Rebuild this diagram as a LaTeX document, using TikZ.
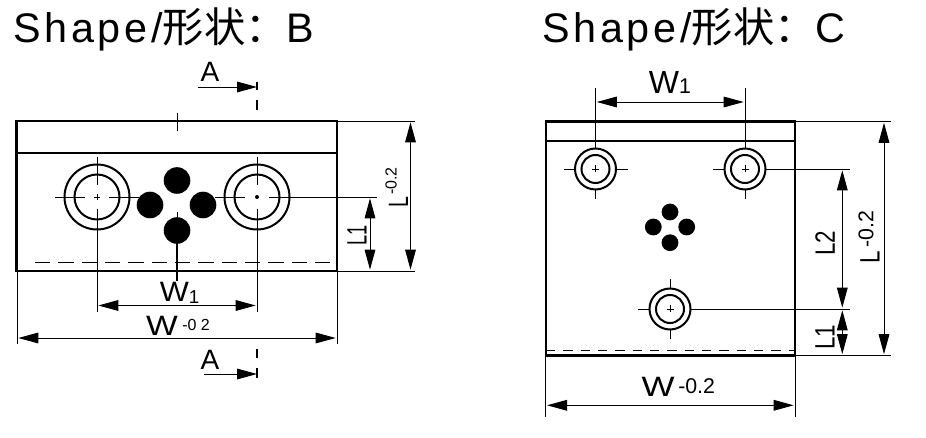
\documentclass[tikz,border=0pt]{standalone}
\usepackage{graphicx}
\usepackage{fontspec}
\setmainfont{Liberation Sans}
\newfontfamily\titlefont[LetterSpace=9]{Liberation Sans}
\newfontfamily\cjk{Noto Sans CJK SC}
\usetikzlibrary{arrows.meta}
\newcommand{\fs}[1]{\fontsize{#1}{#1}\selectfont}
\begin{document}
\begin{tikzpicture}[x=0.75pt,y=-0.75pt,
		outline/.style = {line width=1.8pt},
		thinline/.style = {line width=0.7pt},
		ring/.style = {line width=1.5pt},
		hidden/.style = {line width=0.6pt, dash pattern=on 11.5pt off 6pt},
		dim/.style = {line width=0.7pt, {Triangle[length=15pt,width=8pt]}-{Triangle[length=15pt,width=8pt]}, shorten >=1pt, shorten <=1pt},
		cutarrow/.style = {line width=0.7pt, -{Triangle[length=15pt,width=8pt]}},
		title/.style = {anchor=base west, inner sep=0pt, font=\fs{31}},
		label/.style = {inner sep=0pt, font=\fs{21}},
		small/.style = {inner sep=0pt, font=\fs{12}}]
	\useasboundingbox (0,0) rectangle (926,438);
	% titles
	\node[title] (titleB) at (13,43) {\titlefont Shape/\cjk 形状：\titlefont B};
	\node[title] (titleC) at (542,43) {\titlefont Shape/\cjk 形状：\titlefont C};
	% shape B
	\coordinate (B1) at (97,197);
	\coordinate (B2) at (257,197);
	\draw[outline] (16.5,121) rectangle (337,271);
	\draw[outline] (16.5,153) -- (337,153);
	\draw[thinline] (177,113) -- (177,131);
	\draw[hidden] (35,262.5) -- (337,262.5);
	\foreach \hole in {B1,B2} {
		\draw[ring] (\hole) circle (32.5);
		\draw[ring] (\hole) circle (22.5);
		\draw[thinline] ([shift={(0,-40)}]\hole) -- ([shift={(0,-12)}]\hole);
		\draw[thinline] ([shift={(0,12)}]\hole) -- ([shift={(0,40)}]\hole);
		\draw[thinline] ([shift={(-42,0)}]\hole) -- ([shift={(-12,0)}]\hole);
		\draw[thinline] ([shift={(12,0)}]\hole) -- ([shift={(42,0)}]\hole);
	}
	\draw[line width=0.4pt] ([shift={(-3,0)}]B1) -- ([shift={(3,0)}]B1);
	\draw[line width=0.4pt] ([shift={(0,-3)}]B1) -- ([shift={(0,3)}]B1);
	\fill (B2) circle (2);
	\foreach \px/\py in {177/180.5,150/205,203/205,177/230.5}
		\fill (\px,\py) circle (13.3);
	\draw[thinline] (177,212) -- (177,217);
	\draw[line width=0.9pt] (177,240) -- (177,281);
	% extension lines B
	\draw[thinline] (97,225) -- (97,312);
	\draw[thinline] (257,225) -- (257,312);
	\draw[thinline] (17,271) -- (17,344);
	\draw[thinline] (337,271) -- (337,344);
	\draw[thinline] (337,121) -- (415,121);
	\draw[thinline] (337,271) -- (415,271);
	\draw[thinline] (295,197) -- (377,197);
	% dimensions B
	\draw[dim] (97,305.5) -- (257,305.5);
	\draw[dim] (17,338) -- (337,338);
	\draw[dim] (370,197) -- (370,271);
	\draw[dim] (410.5,121) -- (410.5,271);
	\node[label] (wB1) at (179.5,293) {\scalebox{1.1}[1]{W}\raisebox{-1pt}{\fs{14}1}};
	\node[label, anchor=east] (wB) at (178,326) {\scalebox{1.2}[1]{W}};
	\node[small, anchor=west] (wBtol) at (182,325) {-0 2};
	\node[label, rotate=90] (lB1) at (357,235) {\scalebox{0.65}[1]{L1}};
	\node[label, rotate=90] (lB) at (398.5,202) {\scalebox{0.7}[1]{L}};
	\node[small, rotate=90] (lBtol) at (391,181) {-0.2};
	% section marks B
	\node[label] (aTop) at (210,72) {A};
	\node[label] (aBot) at (210,360) {A};
	\coordinate (cutTop) at (257,87);
	\coordinate (cutBot) at (257,374);
	\draw[cutarrow] (198,87) -- (cutTop);
	\draw[cutarrow] (204,374) -- (cutBot);
	\draw[line width=1.3pt] (257,82) -- (257,90);
	\draw[line width=1.3pt] (257,100) -- (257,110);
	\draw[line width=1.3pt] (257,349) -- (257,358);
	\draw[line width=1.3pt] (257,368) -- (257,378);
	% shape C
	\coordinate (C1) at (595.5,169);
	\coordinate (C2) at (745,169);
	\coordinate (C3) at (670,309);
	\draw[outline] (545.7,121.5) rectangle (795,355.5);
	\draw[line width=1.3pt] (545.7,141) -- (795,141);
	\draw[thinline, dash pattern=on 7pt off 6pt] (546,350) -- (795,350);
	\foreach \hole in {C1,C2,C3} {
		\draw[ring] (\hole) circle (20.5);
		\draw[ring] (\hole) circle (14);
		\draw[thinline] ([shift={(-32,0)}]\hole) -- ([shift={(-20.5,0)}]\hole);
		\draw[thinline] ([shift={(0,20.5)}]\hole) -- ([shift={(0,30)}]\hole);
		\draw[line width=0.4pt] ([shift={(-3.5,0)}]\hole) -- ([shift={(3.5,0)}]\hole);
		\draw[line width=0.4pt] ([shift={(0,-3.5)}]\hole) -- ([shift={(0,3.5)}]\hole);
	}
	\draw[thinline] ([shift={(20.5,0)}]C1) -- ([shift={(32,0)}]C1);
	\draw[thinline] ([shift={(0,-20.5)}]C3) -- ([shift={(0,-30)}]C3);
	\foreach \px/\py in {670/212,653.3/227,686.7/227,670/242.7}
		\fill (\px,\py) circle (8.4);
	% extension lines C
	\draw[thinline] (595.5,88) -- (595.5,148.5);
	\draw[thinline] (745,88) -- (745,148.5);
	\draw[thinline] (765.5,169) -- (850,169);
	\draw[thinline] (690.5,309) -- (850,309);
	\draw[thinline] (795,121.5) -- (891,121.5);
	\draw[thinline] (795,355.5) -- (891,355.5);
	\draw[thinline] (545.7,355.5) -- (545.7,417);
	\draw[thinline] (795,355.5) -- (795,417);
	% dimensions C
	\draw[dim] (595.5,102) -- (745,102);
	\draw[dim] (545.7,405.3) -- (795,405.3);
	\draw[dim] (842.3,169) -- (842.3,309);
	\draw[dim] (842.3,309) -- (842.3,355.5);
	\draw[dim] (884,121.5) -- (884,355.5);
	\node[label, font=\fs{24}] (wC1) at (670,82) {W\raisebox{0pt}{\fs{16}1}};
	\node[label, anchor=east] (wC) at (675,387) {\scalebox{1.25}[1]{W}};
	\node[inner sep=0pt, font=\fs{16}, anchor=west] (wCtol) at (678,386) {-0.2};
	\node[label, rotate=90] (lC2) at (825,243) {\scalebox{0.8}[1]{L2}};
	\node[label, rotate=90] (lC1) at (825,337) {\scalebox{0.8}[1]{L1}};
	\node[label, rotate=90] (lC) at (870,257) {\scalebox{0.8}[1]{L}};
	\node[inner sep=0pt, font=\fs{16}, rotate=90] (lCtol) at (866,229) {-0.2};
\end{tikzpicture}
\end{document}
